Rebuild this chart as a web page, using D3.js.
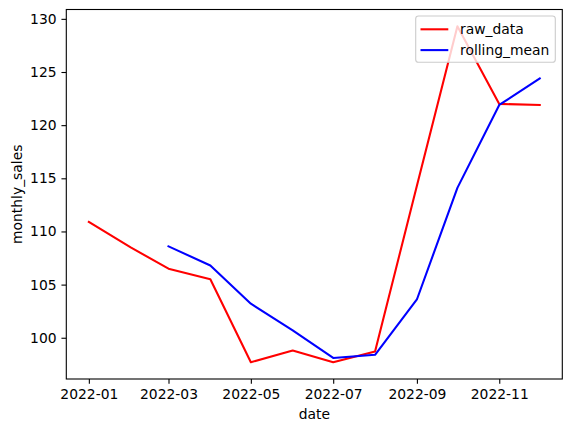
<!DOCTYPE html>
<html><head><meta charset="utf-8">
<script src="https://cdn.jsdelivr.net/npm/d3@7"></script>
<style>html,body{margin:0;padding:0;background:#fff;}svg{display:block;font-family:"DejaVu Sans",sans-serif;}</style>
</head><body>
<svg id="chart" width="571" height="432"></svg>
<script>
const months = ["2022-01-01","2022-02-01","2022-03-01","2022-04-01","2022-05-01","2022-06-01","2022-07-01","2022-08-01","2022-09-01","2022-10-01","2022-11-01","2022-12-01"];
const rawData = [110.9, 108.5, 106.5, 105.5, 97.7, 98.8, 97.7, 98.7, 114.3, 129.3, 122.0, 121.9];
const rollingMean = [null, null, 108.6, 106.8, 103.2, 100.7, 98.1, 98.4, 103.6, 114.1, 121.9, 124.4];
const yTicks = [100, 105, 110, 115, 120, 125, 130];
const xTickLabels = ["2022-01","2022-03","2022-05","2022-07","2022-09","2022-11"];
const seriesNames = ["raw_data", "rolling_mean"];
const seriesColors = ["#ff0000", "#0000ff"];

const svg = d3.select("#chart");
const L = 66.3, R = 562.3, T = 9.5, B = 379;
const parse = d3.utcParse("%Y-%m-%d");
const dates = months.map(parse);
const fs = 13.89;

const t0 = +dates[0], t1 = +dates[dates.length-1], tp = (t1 - t0) * 0.05;
const x = d3.scaleUtc().domain([new Date(t0 - tp), new Date(t1 + tp)]).range([L, R]);
const allVals = rawData.concat(rollingMean.filter(v => v != null));
const ymin = d3.min(allVals), ymax = d3.max(allVals), yp = (ymax - ymin) * 0.05;
const y = d3.scaleLinear().domain([ymin - yp, ymax + yp]).range([B, T]);

// lines
const line = d3.line().defined(d => d.v != null).x(d => x(d.d)).y(d => y(d.v));
[rawData, rollingMean].forEach((arr, i) => {
  svg.append("path").datum(arr.map((v, j) => ({d: dates[j], v})))
    .attr("d", line).attr("fill", "none").attr("stroke", seriesColors[i])
    .attr("stroke-width", 2.08).attr("stroke-linejoin", "round").attr("stroke-linecap", "square");
});

// axes
const xTickDates = xTickLabels.map(s => parse(s + "-01"));
const xAxis = d3.axisBottom(x).tickValues(xTickDates).tickFormat(d3.utcFormat("%Y-%m"))
  .tickSizeInner(4.86).tickSizeOuter(0).tickPadding(4.86);
const gx = svg.append("g").attr("transform", `translate(0,${B})`).call(xAxis);
gx.select(".domain").remove();
gx.selectAll(".tick line").attr("stroke", "#000").attr("stroke-width", 1.1);
gx.selectAll(".tick text").attr("font-size", fs).attr("fill", "#000").attr("font-family", "DejaVu Sans");

const yAxis = d3.axisLeft(y).tickValues(yTicks).tickFormat(d3.format("d"))
  .tickSizeInner(4.86).tickSizeOuter(0).tickPadding(4.86);
const gy = svg.append("g").attr("transform", `translate(${L},0)`).call(yAxis);
gy.select(".domain").remove();
gy.selectAll(".tick line").attr("stroke", "#000").attr("stroke-width", 1.1);
gy.selectAll(".tick text").attr("font-size", fs).attr("fill", "#000").attr("font-family", "DejaVu Sans");

// spines
svg.append("rect").attr("x", L).attr("y", T).attr("width", R - L).attr("height", B - T)
  .attr("fill", "none").attr("stroke", "#000").attr("stroke-width", 1.1);

// axis labels
svg.append("text").attr("x", (L + R) / 2).attr("y", 418.5).attr("text-anchor", "middle")
  .attr("font-size", fs).attr("fill", "#000").text("date");
svg.append("text").attr("transform", `translate(21.8,${(T + B) / 2}) rotate(-90)`)
  .attr("text-anchor", "middle").attr("font-size", fs).attr("fill", "#000").text("monthly_sales");

// legend
const lg = svg.append("g");
lg.append("rect").attr("x", 415.7).attr("y", 16).attr("width", 139.6).attr("height", 46.3)
  .attr("rx", 2.8).attr("fill", "#fff").attr("fill-opacity", 0.8)
  .attr("stroke", "#cccccc").attr("stroke-width", 1.1);
seriesNames.forEach((name, i) => {
  const yy = 29.3 + i * 20.8;
  lg.append("line").attr("x1", 420.5).attr("x2", 448.3).attr("y1", yy).attr("y2", yy)
    .attr("stroke", seriesColors[i]).attr("stroke-width", 2.08);
  lg.append("text").attr("x", 460).attr("y", yy + 4.8).attr("font-size", fs).attr("fill", "#000").text(name);
});
</script>
</body></html>
